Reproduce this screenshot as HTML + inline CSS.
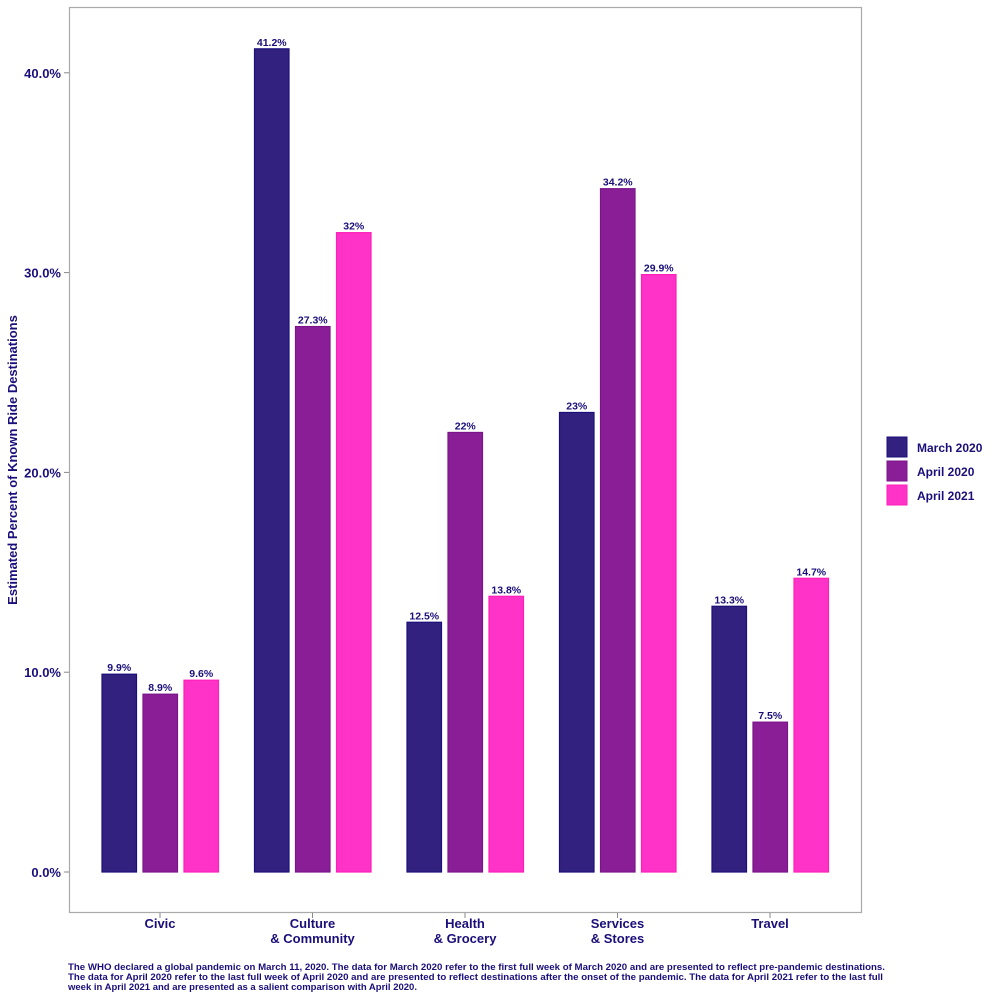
<!DOCTYPE html>
<html><head><meta charset="utf-8"><style>
body{margin:0;background:#fff;font-family:"Liberation Sans",sans-serif}
svg text{font-family:"Liberation Sans",sans-serif;font-weight:bold;fill:#1a0f7a}
</style></head><body>
<svg id="chart" width="1000" height="1000">
<rect x="69.5" y="7.5" width="792" height="905" fill="none" stroke="#aaa" stroke-width="1.2"/>
<g id="bars"></g>
<text transform="translate(17,460) rotate(-90)" text-anchor="middle" font-size="13">Estimated Percent of Known Ride Destinations</text>
<g>
<rect x="887" y="437" width="20" height="20" fill="#33217f" stroke="#1a0f7a"/>
<text x="917" y="452" font-size="12">March 2020</text>
<rect x="887" y="461" width="20" height="20" fill="#8a1e96" stroke="#7a148a"/>
<text x="917" y="476" font-size="12">April 2020</text>
<rect x="887" y="485" width="20" height="20" fill="#ff33c7" stroke="#ff1fb8"/>
<text x="917" y="500" font-size="12">April 2021</text>
</g>
<text font-size="9.3">
<tspan x="68" y="970" textLength="817" lengthAdjust="spacingAndGlyphs">The WHO declared a global pandemic on March 11, 2020. The data for March 2020 refer to the first full week of March 2020 and are presented to reflect pre-pandemic destinations.</tspan>
<tspan x="68" y="980" textLength="815" lengthAdjust="spacingAndGlyphs">The data for April 2020 refer to the last full week of April 2020 and are presented to reflect destinations after the onset of the pandemic. The data for April 2021 refer to the last full</tspan>
<tspan x="68" y="990" textLength="349" lengthAdjust="spacingAndGlyphs">week in April 2021 and are presented as a salient comparison with April 2020.</tspan>
</text>
</svg>
<script>
const categories = [["Civic"],["Culture","& Community"],["Health","& Grocery"],["Services","& Stores"],["Travel"]];
const seriesNames = ["March 2020","April 2020","April 2021"];
const march2020 = [9.9,41.2,12.5,23,13.3];
const april2020 = [8.9,27.3,22,34.2,7.5];
const april2021 = [9.6,32,13.8,29.9,14.7];
const valueLabels = [["9.9%","41.2%","12.5%","23%","13.3%"],["8.9%","27.3%","22%","34.2%","7.5%"],["9.6%","32%","13.8%","29.9%","14.7%"]];
const yTicks = [0,10,20,30,40];
const yTickLabels = ["0.0%","10.0%","20.0%","30.0%","40.0%"];
const series = [march2020, april2020, april2021];
const fills = ["#33217f","#8a1e96","#ff33c7"];
const strokes = ["#1a0f7a","#7a148a","#ff1fb8"];
const NS = "http://www.w3.org/2000/svg";
const svg = document.getElementById("chart");
const g = document.getElementById("bars");
function y(v){return 872 - v*19.98;}
function xc(i){return 160 + i*152.5;}
const bw = 34.5, step = 41;
function mk(tag, attrs, parent){const e=document.createElementNS(NS,tag);for(const k in attrs)e.setAttribute(k,attrs[k]);(parent||svg).appendChild(e);return e;}
yTicks.forEach((t,i)=>{
  const tk = mk("line",{x1:64,x2:69,y1:y(t),y2:y(t),stroke:"#888"});
  
  
  const tx = mk("text",{x:61,y:y(t)+5,"text-anchor":"end","font-size":"13"});
  
  
  tx.textContent = yTickLabels[i];
});
categories.forEach((c,i)=>{
  const tk = mk("line",{x1:xc(i),x2:xc(i),y1:913,y2:918,stroke:"#888"});
  
  
  c.forEach((line,j)=>{
    const tx = mk("text",{x:xc(i),y:928+j*15,"text-anchor":"middle","font-size":"13"});
    
    
    tx.textContent = line;
  });
  series.forEach((s,k)=>{
    const x0 = xc(i) - 58 + k*step;
    const r = mk("rect",{x:x0,y:y(s[i]),width:bw,height:872-y(s[i]),fill:fills[k],stroke:strokes[k],"stroke-width":1.2},g);
    
    
    const lb = mk("text",{x:x0+bw/2,y:y(s[i])-3,"text-anchor":"middle","font-size":"10.5"},g);
    
    
    lb.textContent = valueLabels[k][i];
  });
});
</script>
</body></html>
